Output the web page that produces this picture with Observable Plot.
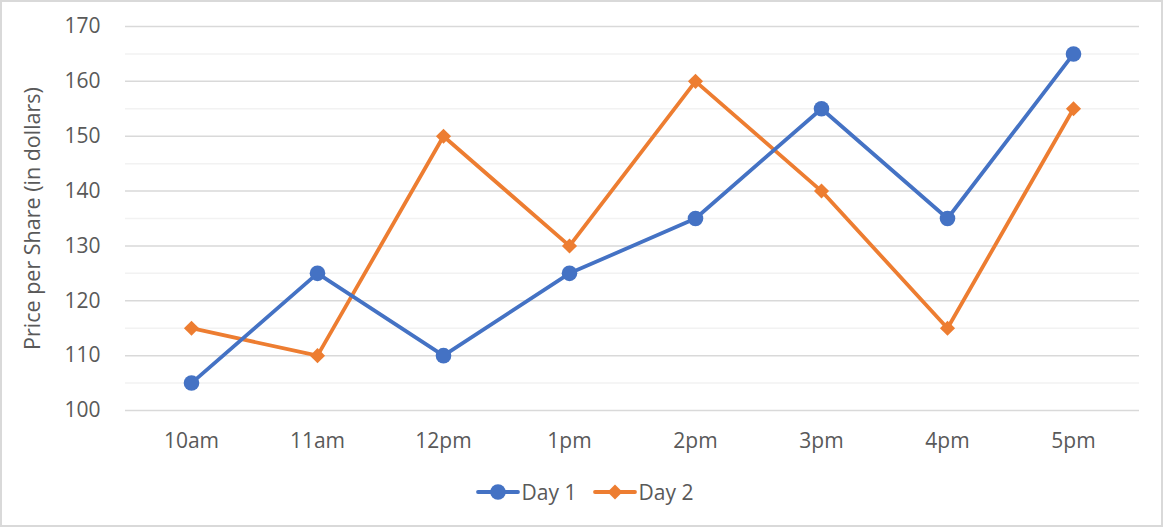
<!DOCTYPE html>
<html>
<head>
<meta charset="utf-8">
<script src="https://cdn.jsdelivr.net/npm/d3@7"></script>
<script src="https://cdn.jsdelivr.net/npm/@observablehq/plot@0.6"></script>
<style>
  html, body { margin: 0; padding: 0; background: #fff; }
  #wrap { position: relative; width: 1163px; height: 527px; overflow: hidden; font-family: "Open Sans", Lato, sans-serif; }
  #frame { position: absolute; left: 0; top: 0; width: 1163px; height: 527px; box-sizing: border-box; border: 2px solid #d9d9d9; pointer-events: none; }
  #legend { display: flex; justify-content: center; align-items: center; gap: 16px; font-size: 21px; color: #595959; margin-top: 12px; padding-left: 6px; }
  .item { display: flex; align-items: center; gap: 2px; }
  svg { display: block; }
</style>
</head>
<body>
<div id="wrap"><div id="chart"></div><div id="legend"></div><div id="frame"></div></div>
<script>
const times = ["10am", "11am", "12pm", "1pm", "2pm", "3pm", "4pm", "5pm"];
const day1 = [105, 125, 110, 125, 135, 155, 135, 165];
const day2 = [115, 110, 150, 130, 160, 140, 115, 155];
const seriesNames = ["Day 1", "Day 2"];
const colors = ["#4472C4", "#ED7D31"];
const yMajor = [100, 110, 120, 130, 140, 150, 160, 170];
const yMinor = [105, 115, 125, 135, 145, 155, 165];

const rows = [];
times.forEach((t, i) => {
  rows.push({time: t, value: day1[i], series: seriesNames[0]});
  rows.push({time: t, value: day2[i], series: seriesNames[1]});
});
const d1 = rows.filter(d => d.series === "Day 1");
const d2 = rows.filter(d => d.series === "Day 2");

const font = "'Open Sans', Lato, sans-serif";
const chart = Plot.plot({
  width: 1163,
  height: 466,
  marginTop: 26,
  marginBottom: 56,
  marginLeft: 125,
  marginRight: 24,
  style: {fontFamily: font, fontSize: "21px", color: "#595959", background: "transparent"},
  x: {type: "point", domain: times, padding: 0.5, label: null},
  y: {domain: [100, 170], label: null},
  marks: [
    Plot.ruleY(yMinor, {stroke: "#f2f2f2", strokeWidth: 1.5}),
    Plot.ruleY(yMajor, {stroke: "#d9d9d9", strokeWidth: 1.5}),
    Plot.axisY({ticks: yMajor, tickSize: 0, tickPadding: 25, fill: "#595959", fontSize: 21, label: null}),
    Plot.axisX({ticks: times, tickSize: 0, tickPadding: 23, fill: "#595959", fontSize: 21, label: null}),
    Plot.text(["Price per Share (in dollars)"], {frameAnchor: "left", textAnchor: "middle", rotate: -90, dx: -92, fill: "#595959", fontSize: 21.5}),
    Plot.line(d2, {x: "time", y: "value", stroke: colors[1], strokeWidth: 3.8}),
    Plot.dot(d2, {x: "time", y: "value", fill: colors[1], symbol: "diamond2", r: 6.8, stroke: "none"}),
    Plot.line(d1, {x: "time", y: "value", stroke: colors[0], strokeWidth: 3.8}),
    Plot.dot(d1, {x: "time", y: "value", fill: colors[0], r: 7.8, stroke: "none"})
  ]
});
document.getElementById("chart").appendChild(chart);

const legend = document.getElementById("legend");
seriesNames.forEach((name, i) => {
  const item = document.createElement("div");
  item.className = "item";
  const sym = i === 0
    ? `<circle cx="22" cy="8" r="7.8" fill="${colors[i]}"/>`
    : `<rect x="16.7" y="2.7" width="10.6" height="10.6" fill="${colors[i]}" transform="rotate(45 22 8)"/>`;
  item.innerHTML = `<svg width="44" height="16"><line x1="2" x2="42" y1="8" y2="8" stroke="${colors[i]}" stroke-width="3.8" stroke-linecap="round"/>${sym}</svg><span>${name}</span>`;
  legend.appendChild(item);
});
</script>
</body>
</html>
